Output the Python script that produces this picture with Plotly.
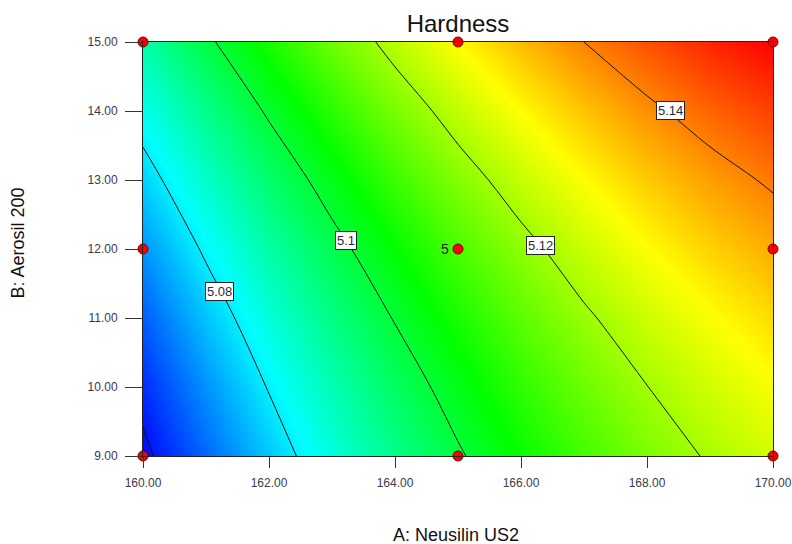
import plotly.graph_objects as go

# Factor levels (grid of the response surface)
A_levels = [160, 161, 162, 163, 164, 165, 166, 167, 168, 169, 170]
B_levels = [9, 10, 11, 12, 13, 14, 15]

# Hardness values (rows = B_levels, columns = A_levels)
hardness_B9 = [5.0585, 5.0675, 5.0764, 5.0847, 5.0923, 5.0992, 5.1056, 5.1113, 5.1163, 5.1207, 5.1245]
hardness_B10 = [5.0621, 5.0715, 5.0804, 5.0885, 5.0961, 5.1030, 5.1092, 5.1149, 5.1199, 5.1242, 5.1279]
hardness_B11 = [5.0666, 5.0760, 5.0848, 5.0929, 5.1004, 5.1072, 5.1134, 5.1190, 5.1239, 5.1281, 5.1318]
hardness_B12 = [5.0717, 5.0810, 5.0897, 5.0977, 5.1051, 5.1119, 5.1180, 5.1235, 5.1284, 5.1326, 5.1361]
hardness_B13 = [5.0772, 5.0864, 5.0950, 5.1030, 5.1104, 5.1171, 5.1231, 5.1285, 5.1333, 5.1374, 5.1409]
hardness_B14 = [5.0831, 5.0923, 5.1009, 5.1088, 5.1161, 5.1227, 5.1287, 5.1340, 5.1387, 5.1428, 5.1462]
hardness_B15 = [5.0896, 5.0987, 5.1072, 5.1150, 5.1222, 5.1288, 5.1347, 5.1400, 5.1446, 5.1486, 5.1520]
hardness = [hardness_B9, hardness_B10, hardness_B11, hardness_B12,
            hardness_B13, hardness_B14, hardness_B15]
hardness_min = 5.058
hardness_max = 5.152

# Design points
design_A = [160, 165, 170, 160, 165, 170, 160, 165, 170]
design_B = [9, 9, 9, 12, 12, 12, 15, 15, 15]
center_replicates = "5"

# Contour labels
label_values = ["5.08", "5.1", "5.12", "5.14"]
label_A = [161.21, 163.22, 166.31, 168.37]
label_B = [11.38, 12.12, 12.05, 14.01]

x_ticks = [160, 162, 164, 166, 168, 170]
y_ticks = [9, 10, 11, 12, 13, 14, 15]

colors = [[0.0, "rgb(0,0,255)"], [0.25, "rgb(0,255,255)"], [0.5, "rgb(0,255,0)"],
          [0.75, "rgb(255,255,0)"], [1.0, "rgb(255,0,0)"]]

FONT = "Arial, Liberation Sans, sans-serif"

fig = go.Figure()
fig.add_trace(go.Contour(
    x=A_levels, y=B_levels, z=hardness,
    colorscale=colors, showscale=False, zauto=False, zmin=hardness_min, zmax=hardness_max,
    contours=dict(coloring="heatmap", start=5.06, end=5.14, size=0.02, showlabels=False),
    line=dict(color="#111111", width=1),
    hoverinfo="skip",
))
fig.add_trace(go.Scatter(
    x=design_A, y=design_B, mode="markers",
    marker=dict(size=10, color="#ff0000", line=dict(color="#7a0000", width=1)),
    cliponaxis=False, showlegend=False,
))

tick_font = dict(family=FONT, size=12, color="#3a3a4a")
for t, xa, yb in zip(label_values, label_A, label_B):
    fig.add_annotation(x=xa, y=yb, text=t, showarrow=False,
                       font=dict(family=FONT, size=13, color="#2a2a3a"),
                       bgcolor="white", bordercolor="#222222", borderwidth=1, borderpad=1)
fig.add_annotation(x=165, y=12, text=center_replicates, showarrow=False, xanchor="right",
                   xshift=-7, font=dict(family=FONT, size=14, color="#222222"))

# Axis titles
fig.add_annotation(xref="paper", yref="paper", x=0.497, y=-0.191, yanchor="middle",
                   text="A: Neusilin US2", showarrow=False,
                   font=dict(family=FONT, size=18, color="#111111"))
fig.add_annotation(xref="paper", yref="paper", x=-0.198, y=0.514, xanchor="center", yanchor="middle",
                   text="B: Aerosil 200", textangle=-90, showarrow=False,
                   font=dict(family=FONT, size=18, color="#111111"))

fig.update_layout(
    width=792, height=544,
    margin=dict(l=143, r=19, t=42, b=88),
    paper_bgcolor="white", plot_bgcolor="white",
    title=dict(text="Hardness", x=0.5, xanchor="center", xref="paper", y=0.956, yanchor="middle",
               font=dict(family=FONT, size=24, color="#111111")),
    showlegend=False,
)
fig.update_xaxes(range=[160, 170], tickvals=x_ticks, tickformat=".2f", ticks="outside", ticklen=11,
                 tickcolor="#333333", showline=True, mirror=True, linecolor="#222222", linewidth=1,
                 showgrid=False, zeroline=False, tickfont=tick_font, automargin=False,
                 ticklabelstandoff=5)
fig.update_yaxes(range=[9, 15], tickvals=y_ticks, tickformat=".2f", ticks="outside", ticklen=17,
                 tickcolor="#333333", showline=True, mirror=True, linecolor="#222222", linewidth=1,
                 showgrid=False, zeroline=False, tickfont=tick_font, automargin=False,
                 ticklabelstandoff=5)

fig.write_html("out.html")
